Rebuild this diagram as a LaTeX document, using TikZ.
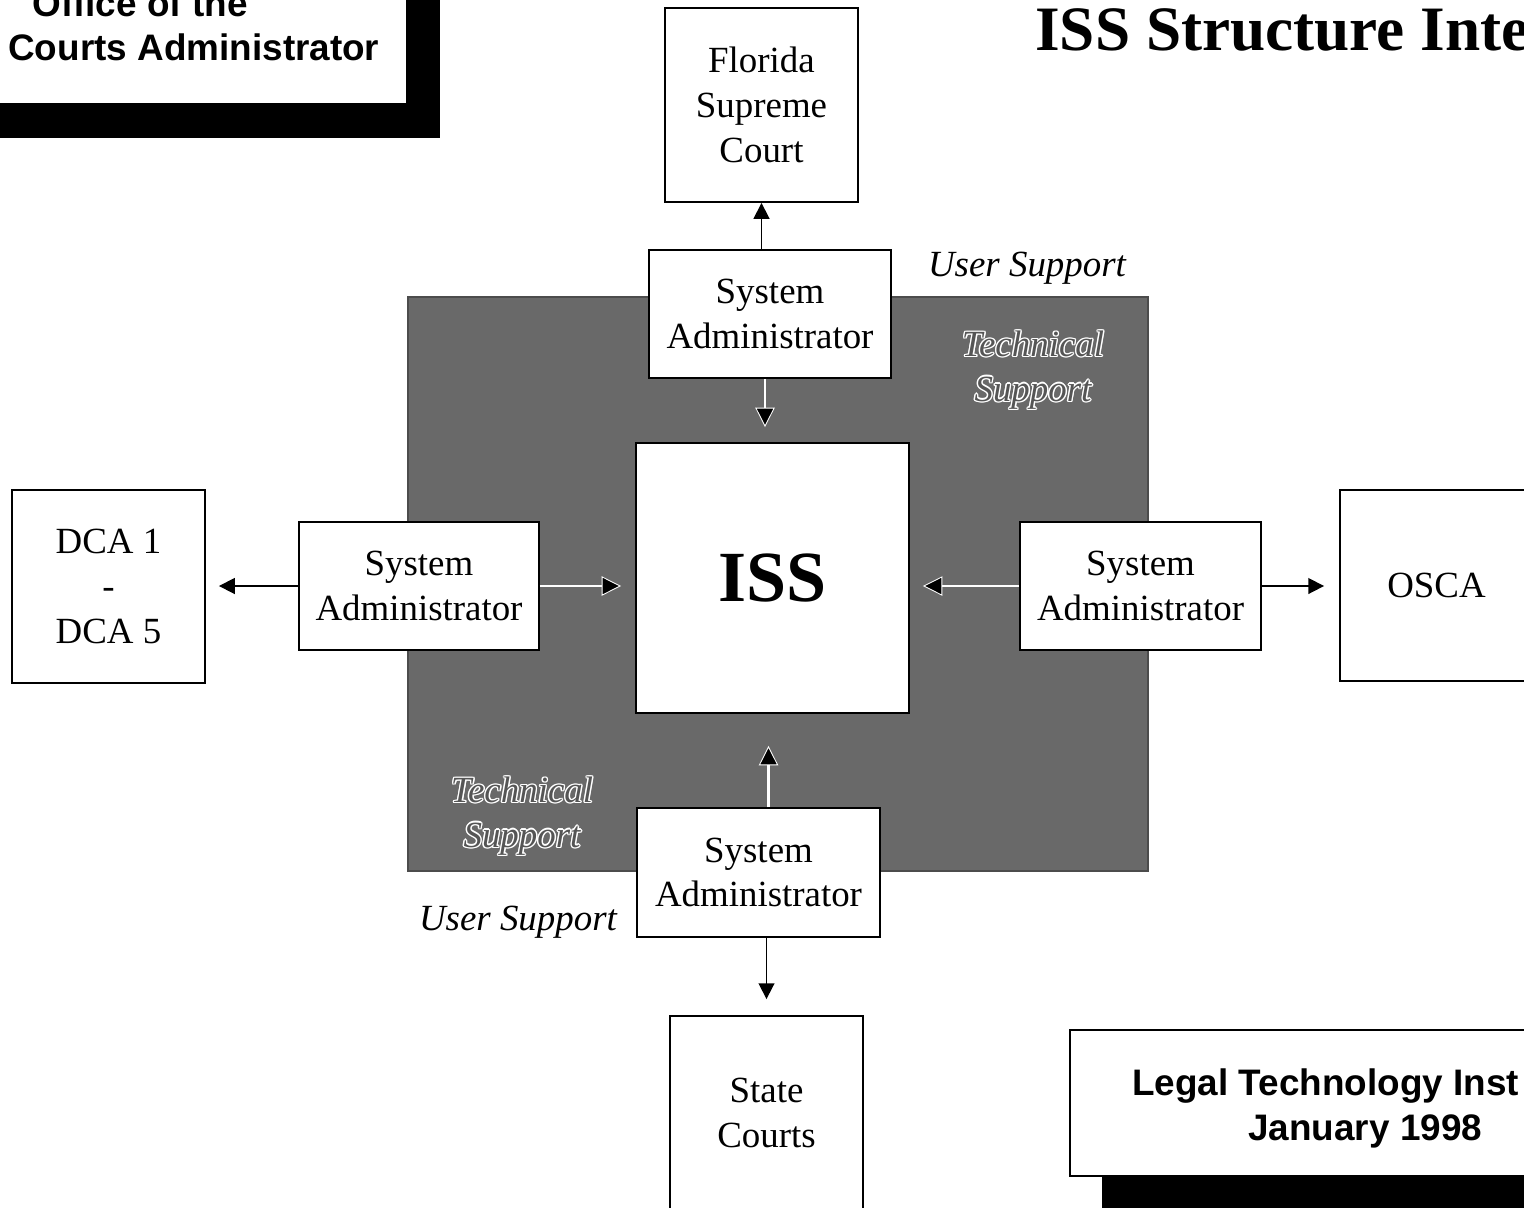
\documentclass[tikz,border=0pt]{standalone}
\usepackage{fontspec}
\setmainfont{Liberation Serif}
\newfontfamily\arialfont{Liberation Sans}
\usetikzlibrary{arrows.meta,calc}
\definecolor{bggray}{RGB}{105,105,105}
\definecolor{tsfill}{RGB}{85,85,85}
\newcommand\outlined[1]{%
 \leavevmode
 \rlap{\color{white}\kern0.8pt #1}%
 \rlap{\color{white}\kern-0.8pt #1}%
 \rlap{\color{white}\raisebox{0.8pt}{#1}}%
 \rlap{\color{white}\raisebox{-0.8pt}{#1}}%
 \rlap{\color{white}\kern0.6pt\raisebox{0.6pt}{#1}}%
 \rlap{\color{white}\kern-0.6pt\raisebox{-0.6pt}{#1}}%
 \rlap{\color{white}\kern0.6pt\raisebox{-0.6pt}{#1}}%
 \rlap{\color{white}\kern-0.6pt\raisebox{0.6pt}{#1}}%
 {\color{tsfill}#1}}
\begin{document}
\begin{tikzpicture}[x=0.02cm,y=-0.02cm,
  box/.style={draw=black, line width=1.1pt, fill=white, inner sep=0pt, align=center,
    font=\fontsize{21}{25.5}\selectfont},
  arr/.style={line width=1pt, -{Triangle[length=9pt,width=9pt]}},
  inarr/.style={white, line width=1.4pt, -{Triangle[length=11pt,width=11pt,fill=black,line width=0.5pt]}},
  lbl/.style={font=\fontsize{21}{25.5}\selectfont\itshape, align=center, inner sep=0pt},
  hd/.style={font=\arialfont\bfseries\fontsize{21}{25}\selectfont, inner sep=0pt}
]
\clip (0,0) rectangle (1524,1207);
\fill[white] (0,0) rectangle (1524,1207);

% top-left header box with shadow
\fill[black] (0,104) rectangle (440,138);
\fill[black] (407,-10) rectangle (440,138);
\draw[line width=1pt, fill=white] (-10,-10) rectangle (407,104);
\node[hd, anchor=base west] (off1) at (32,16) {Office of the};
\node[hd, anchor=base west] (off2) at (8,60) {Courts Administrator};

% title
\node[font=\bfseries\fontsize{36}{40}\selectfont, anchor=base west, inner sep=0pt] (title) at (1035,50) {ISS Structure Inte};

% gray background
\fill[bggray] (408,297) rectangle (1148,871);
\draw[black!70, line width=0.6pt] (408,297) rectangle (1148,871);

% nodes
\node[box, minimum width=3.86cm, minimum height=3.88cm] (florida) at (761.5,105) {Florida\\Supreme\\Court};
\node[box, minimum width=4.84cm, minimum height=2.56cm] (topsa) at (770,314) {System\\Administrator};
\node[box, minimum width=5.46cm, minimum height=5.40cm, font=\bfseries\fontsize{41}{45}\selectfont] (iss) at (772.5,578) {ISS};
\node[box, minimum width=4.80cm, minimum height=2.56cm] (leftsa) at (419,586) {System\\Administrator};
\node[box, minimum width=4.82cm, minimum height=2.56cm] (rightsa) at (1140.5,586) {System\\Administrator};
\node[box, minimum width=4.86cm, minimum height=2.58cm] (botsa) at (758.5,872.5) {System\\Administrator};
\node[box, minimum width=3.86cm, minimum height=3.86cm] (dca) at (108.5,586.5) {DCA 1\\-\\DCA 5};
\node[box, minimum width=3.86cm, minimum height=3.82cm] (osca) at (1436.5,585.5) {OSCA};
\node[box, minimum width=3.86cm, minimum height=3.88cm] (state) at (766.5,1113) {State\\Courts};

% bottom-right footer box with shadow
\fill[black] (1102,1176) rectangle (1540,1215);
\draw[line width=1pt, fill=white] (1070,1030) rectangle (1540,1176);
\node[hd, anchor=base west] (lt1) at (1132,1095) {Legal Technology Inst};
\node[hd, anchor=base west] (lt2) at (1248,1140) {January 1998};

% labels
\node[lbl] (us1) at (1027,268) {User Support};
\node[lbl] (us2) at (518,922) {User Support};
\node[lbl] (ts1) at (1033,370) {\outlined{Technical}\\\outlined{Support}};
\node[lbl] (ts2) at (522,816) {\outlined{Technical}\\\outlined{Support}};

% outer arrows
\draw[arr] (topsa.north -| florida) -- (florida.south);
\draw[arr, shorten >=0.26cm] (leftsa.west) -- (leftsa.west -| dca.east);
\draw[arr, shorten >=0.30cm] (rightsa.east) -- (rightsa.east -| osca.west);
\draw[arr, shorten >=0.32cm] (botsa.south -| state) -- (state.north);

% inner arrows
\draw[inarr, shorten >=0.30cm] ($(topsa.south)+(-5,0)$) -- ($(topsa.south |- iss.north)+(-5,0)$);
\draw[inarr, shorten >=0.28cm] (leftsa.east) -- (leftsa.east -| iss.west);
\draw[inarr, shorten >=0.26cm] (rightsa.west) -- (rightsa.west -| iss.east);
\draw[inarr, shorten >=0.64cm] ($(botsa.north)+(10,0)$) -- ($(botsa.north |- iss.south)+(10,0)$);
\end{tikzpicture}
\end{document}
